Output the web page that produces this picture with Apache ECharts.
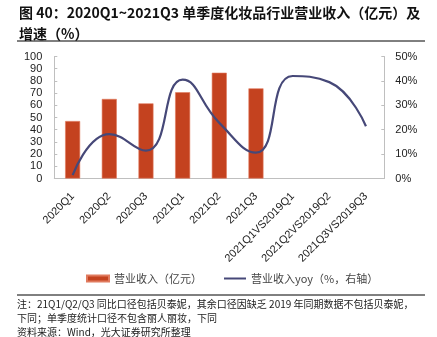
<!DOCTYPE html>
<html>
<head>
<meta charset="utf-8">
<script src="https://cdn.jsdelivr.net/npm/echarts@6/dist/echarts.min.js"></script>
<style>
html,body{margin:0;padding:0;background:#fff;}
#c{width:437px;height:337px;}
</style>
</head>
<body>
<div id="c"></div>
<script>
var categories = ['2020Q1','2020Q2','2020Q3','2021Q1','2021Q2','2021Q3','2021Q1VS2019Q1','2021Q2VS2019Q2','2021Q3VS2019Q3'];
var revenue = [47.1, 65.2, 61.6, 70.7, 86.7, 73.9, null, null, null];
var revenueYoy = [1.4, 18.2, 11.4, 40.5, 22.8, 10.6, 42, 39.5, 21.4];
var leftTicks = {min: 0, max: 100, interval: 10};
var rightTicks = {min: 0, max: 50, interval: 10};
var titleText = '图 40：2020Q1~2021Q3 单季度化妆品行业营业收入（亿元）及\n增速（%）';
var noteLines = [
  '注：21Q1/Q2/Q3 同比口径包括贝泰妮，其余口径因缺乏 2019 年同期数据不包括贝泰妮，',
  '下同；单季度统计口径不包含丽人丽妆，下同',
  '资料来源：Wind，光大证券研究所整理'
];
var seriesNames = ['营业收入（亿元）', '营业收入yoy（%，右轴）'];

var latin = 'Liberation Sans, Arial, sans-serif';
var cjk = '"Noto Sans CJK SC", sans-serif';
var axisColor = '#bfbfbf';
var lineColor = '#464878';

var chart = echarts.init(document.getElementById('c'), null, {renderer: 'canvas'});
var graphics = [
  {type: 'line', shape: {x1: 17, y1: 41, x2: 425, y2: 41}, style: {stroke: '#000', lineWidth: 1}},
  {type: 'line', shape: {x1: 17, y1: 295, x2: 425, y2: 295}, style: {stroke: '#000', lineWidth: 1}}
];
noteLines.forEach(function (t, i) {
  graphics.push({type: 'text', left: 17, top: 299 + i * 14,
    style: {text: t, font: '10px ' + cjk, fill: '#222'}});
});

chart.setOption({
  animation: false,
  title: {
    text: titleText, left: 14, top: -3,
    textStyle: {fontSize: 14, fontWeight: 'bold', color: '#111', fontFamily: cjk, lineHeight: 21}
  },
  legend: {
    left: 81, top: 268, itemWidth: 22, itemHeight: 6, itemGap: 22,
    textStyle: {fontSize: 11, color: '#444', fontFamily: cjk},
    data: [
      {name: seriesNames[0], icon: 'rect'},
      {name: seriesNames[1], icon: 'path://M0,0L22,0L22,2L0,2Z', itemStyle: {color: lineColor}}
    ]
  },
  grid: {left: 54.3, right: 52.7, top: 56.5, bottom: 158.5, containLabel: false},
  xAxis: {
    type: 'category', data: categories, boundaryGap: true,
    axisLine: {lineStyle: {color: axisColor}},
    axisTick: {inside: true, length: 3, lineStyle: {color: axisColor}},
    axisLabel: {rotate: 45, interval: 0, fontSize: 11, color: '#222', fontFamily: latin, margin: 16}
  },
  yAxis: [
    {type: 'value', min: leftTicks.min, max: leftTicks.max, interval: leftTicks.interval,
      splitLine: {show: false},
      axisLine: {show: true, lineStyle: {color: axisColor}},
      axisTick: {show: true, inside: true, length: 3, lineStyle: {color: axisColor}},
      axisLabel: {fontSize: 11, color: '#222', fontFamily: latin, margin: 12}},
    {type: 'value', min: rightTicks.min, max: rightTicks.max, interval: rightTicks.interval,
      splitLine: {show: false},
      axisLine: {show: true, lineStyle: {color: axisColor}},
      axisTick: {show: true, inside: true, length: 3, lineStyle: {color: axisColor}},
      axisLabel: {fontSize: 11, color: '#222', fontFamily: latin, margin: 11, formatter: '{value}%'}}
  ],
  series: [
    {name: seriesNames[0], type: 'bar', data: revenue, barWidth: 15, yAxisIndex: 0,
      itemStyle: {color: '#c4421f', borderColor: '#e07a5e', borderWidth: 0.6}},
    {name: seriesNames[1], type: 'line', data: revenueYoy, yAxisIndex: 1, smooth: 0.5,
      symbol: 'none', showSymbol: false, lineStyle: {color: lineColor, width: 2.2}, itemStyle: {color: lineColor}}
  ],
  graphic: graphics
});
</script>
</body>
</html>
